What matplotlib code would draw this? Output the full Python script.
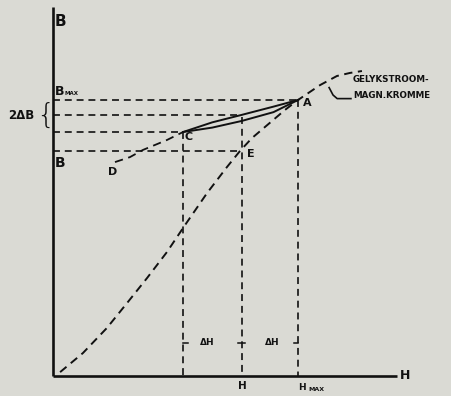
import matplotlib
matplotlib.use("Agg")
import matplotlib.pyplot as plt

plt.rcParams["lines.scale_dashes"] = False
plt.rcParams["font.family"] = ["DejaVu Sans"]

# DC magnetisation curve (H, B), arbitrary units with H_max = B_max = 100
curve_h = [2.9, 12.2, 22.0, 30.2, 38.4, 46.5, 53.9, 62.9, 71.0, 76.3, 81.2, 94.7, 100.0, 109.0, 115.9, 121.2, 126.1]
curve_b = [1.4, 8.3, 17.4, 26.4, 35.5, 44.9, 54.7, 66.3, 75.7, 81.5, 86.2, 96.4, 100.0, 105.4, 108.7, 109.8, 110.5]

# descending branch D -> C
d_h = [25.3, 31.4, 36.7, 46.5, 53.1]
d_b = [77.5, 79.3, 81.9, 85.5, 88.4]

# minor loop between C and A
loop_up_h = [53.1, 65.0, 77.0, 90.0, 100.0]
loop_up_b = [88.4, 91.9, 94.6, 97.6, 100.0]
loop_lo_h = [53.1, 65.0, 77.0, 90.0, 100.0]
loop_lo_b = [88.4, 90.0, 92.4, 95.6, 100.0]

# characteristic points
H_C, B_C = 53.1, 88.4
H_E, B_E = 76.7, 81.5
H_MAX, B_MAX = 100.0, 100.0
B_MID = 94.4
H_END, B_END = 140.4, 133.7

fig = plt.figure(figsize=(4.51, 3.96), dpi=100)
paper = "#dadad4"
fig.patch.set_facecolor(paper)
ax = fig.add_axes([0, 0, 1, 1])
ax.set_facecolor(paper)
ax.set_xlim(-21.63, 162.45)
ax.set_ylim(-7.25, 136.23)
ax.axis("off")

ink = "#111111"

# axes
ax.plot([0, 0], [0, B_END], color=ink, lw=1.9, solid_capstyle="butt")
ax.plot([0, H_END], [0, 0], color=ink, lw=1.9, solid_capstyle="butt")

# curves
ax.plot(curve_h, curve_b, color=ink, lw=1.4, dashes=(6, 4))
ax.plot(d_h, d_b, color=ink, lw=1.3, dashes=(6, 4))
ax.plot(loop_up_h, loop_up_b, color=ink, lw=1.4)
ax.plot(loop_lo_h, loop_lo_b, color=ink, lw=1.4)

# construction lines
dash = dict(color=ink, lw=1.2, dashes=(5, 3.5))
ax.plot([0, H_MAX], [B_MAX, B_MAX], **dash)
ax.plot([0, H_E + 0.4], [B_MID, B_MID], **dash)
ax.plot([0, H_C], [B_C, B_C], **dash)
ax.plot([0, H_E], [B_E, B_E], **dash)
ax.plot([H_C, H_C], [B_C, 0], **dash)
ax.plot([H_E + 0.3, H_E + 0.3], [B_MID - 0.6, 0], **dash)
ax.plot([H_MAX, H_MAX], [B_MAX, 0], **dash)

# dimension marks for delta H
yd = 12.0
for x0, x1 in [(H_C, H_C + 1.8), (H_E - 1.2, H_E + 1.8), (H_MAX - 1.8, H_MAX)]:
    ax.plot([x0, x1], [yd, yd], color=ink, lw=1.1)
ax.text(62.9, yd, "ΔH", fontsize=6.5, fontweight="bold", ha="center", va="center", color=ink)
ax.text(89.4, yd, "ΔH", fontsize=6.5, fontweight="bold", ha="center", va="center", color=ink)

# labels
bold = dict(fontweight="bold", color=ink)
ax.text(0.8, 128.3, "B", fontsize=11, ha="left", va="center", **bold)
ax.text(0.8, 103.0, "B", fontsize=9, ha="left", va="center", **bold)
ax.text(4.8, 102.3, "MAX", fontsize=4, ha="left", va="center", **bold)
ax.text(-12.8, B_MID, "2ΔB", fontsize=8.5, ha="center", va="center", **bold)
ax.text(-3.0, B_MID, "{", fontsize=21, ha="center", va="center", color=ink, fontweight="light")
ax.text(0.8, 77.2, "B", fontsize=10, ha="left", va="center", **bold)
ax.text(24.5, 73.9, "D", fontsize=8, ha="center", va="center", **bold)
ax.text(55.4, 86.6, "C", fontsize=8, ha="center", va="center", **bold)
ax.text(80.6, 80.6, "E", fontsize=8, ha="center", va="center", **bold)
ax.text(103.8, 98.9, "A", fontsize=8, ha="center", va="center", **bold)
ax.text(143.6, 0, "H", fontsize=9, ha="center", va="center", **bold)
ax.text(H_E + 0.8, -3.6, "H", fontsize=7.5, ha="center", va="center", **bold)
ax.text(H_MAX + 1.8, -4.1, "H", fontsize=6.5, ha="center", va="center", **bold)
ax.text(H_MAX + 7.5, -4.8, "MAX", fontsize=4.5, ha="center", va="center", **bold)

ax.text(122.4, 107.4, "GELYKSTROOM-", fontsize=6.3, ha="left", va="center", **bold)
ax.text(122.4, 101.8, "MAGN.KROMME", fontsize=6.3, ha="left", va="center", **bold)
ax.plot([121.6, 116.0, 114.3, 112.7], [100.5, 100.5, 101.8, 104.5], color=ink, lw=1.2)

fig.savefig("out.png", dpi=100, facecolor=paper)
